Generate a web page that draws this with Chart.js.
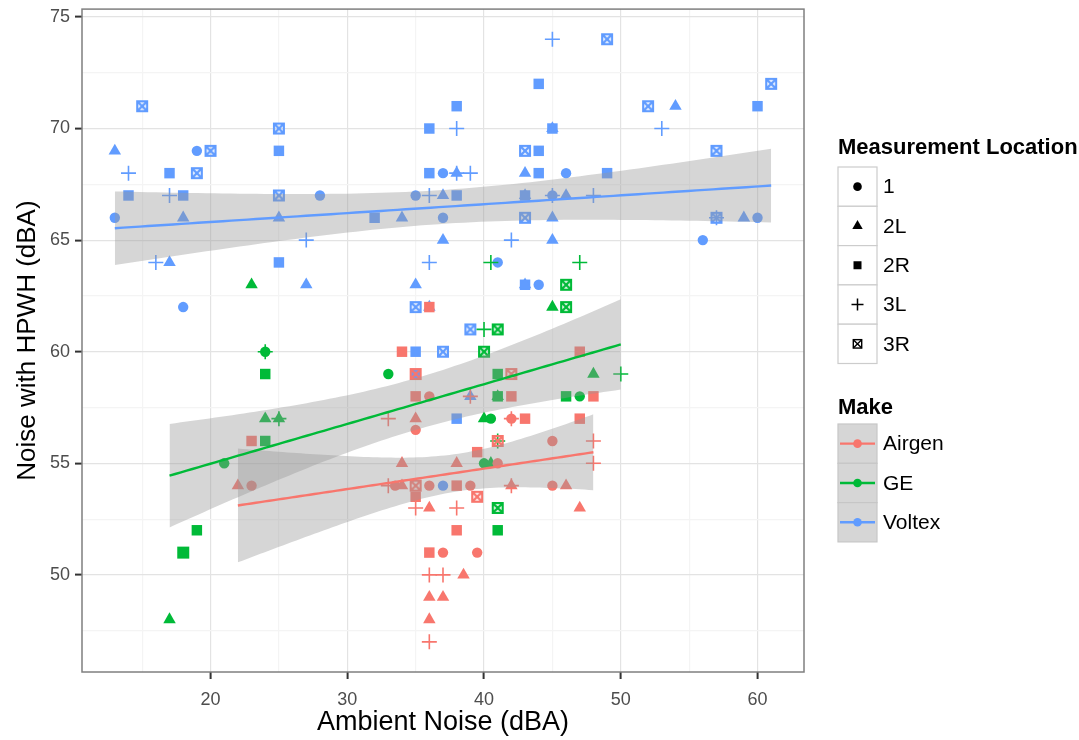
<!DOCTYPE html>
<html><head><meta charset="utf-8">
<script src="https://cdn.jsdelivr.net/npm/chart.js@4.4.1/dist/chart.umd.min.js"></script>
<style>html,body{margin:0;padding:0;background:#fff;}#wrap{width:1079px;height:740px;position:relative}</style>
</head><body><div id="wrap"><canvas id="c" width="1079" height="740"></canvas></div>
<script>
// ---------- DATA ----------
const makes = ['Airgen', 'GE', 'Voltex'];
const locations = ['1', '2L', '2R', '3L', '3R'];

const airgen_1  = [[23,54],[36,58],[35,56.5],[45,56],[41,55],[33.5,54],[36,54],[39,54],[45,54],[37,51],[39.5,51],[42,57]];
const airgen_2L = [[22,54],[35,57],[34,55],[38,55],[34,54],[36,53],[46,54],[47,53],[38.5,50],[36,49],[37,49],[36,48],[42,54]];
const airgen_2R = [[23,56],[34,60],[35,58],[39.5,55.5],[38,54],[35,53.5],[38,52],[36,51],[42,58],[43,57],[47,60],[47,57],[48,58],[36,62]];
const airgen_3L = [[33,57],[33,54],[35,53],[38,53],[36,50],[37,50],[36,47],[48,56],[48,55],[42,57],[42,54],[39,58]];
const airgen_3R = [[35,59],[42,59],[41,56],[35,54],[39.5,53.5]];

const ge_1  = [[24,60],[21,55],[18,51],[33,59],[47,58],[40.5,57],[40,55]];
const ge_2L = [[23,63],[24,57],[25,57],[17,48],[41,58],[40,57],[40.5,55],[45,62],[48,59]];
const ge_2R = [[24,59],[24,56],[19,52],[41,59],[46,58],[41,52],[41,58]];
const ge_3L = [[24,60],[25,57],[40.5,64],[40,61],[41,56],[47,64],[50,59]];
const ge_3R = [[18,51],[46,63],[46,62],[41,61],[40,60],[41,53]];

const voltex_1  = [[13,66],[19,69],[28,67],[35,67],[37,68],[37,66],[46,68],[41,64],[44,63],[56,65],[60,66],[18,62],[37,54],[45,67]];
const voltex_2L = [[13,69],[18,66],[25,66],[17,64],[27,63],[37,67],[34,66],[38,68],[43,68],[45,70],[37,65],[45,66],[45,65],[35,63],[36,62],[46,67],[54,71],[59,66],[43,67],[43,63],[39,58]];
const voltex_2R = [[14,67],[17,68],[18,67],[25,69],[25,64],[32,66],[36,70],[38,71],[44,72],[44,69],[36,68],[44,68],[38,67],[43,67],[49,68],[60,71],[45,70],[35,60],[35,59],[38,57],[43,63]];
const voltex_3L = [[14,68],[17,67],[16,64],[27,65],[38,70],[45,74],[38,68],[39,68],[36,67],[36,64],[42,65],[48,67],[53,70],[45,67],[57,66]];
const voltex_3R = [[15,71],[19,68],[20,69],[25,70],[25,67],[43,69],[43,66],[49,74],[52,71],[61,72],[57,69],[35,62],[39,61],[37,60],[57,66]];

const xTickValues = [20, 30, 40, 50, 60];
const xTickLabels = ['20', '30', '40', '50', '60'];
const yTickValues = [50, 55, 60, 65, 70, 75];
const yTickLabels = ['50', '55', '60', '65', '70', '75'];
const xMinorValues = [15, 25, 35, 45, 55];
const yMinorValues = [47.5, 52.5, 57.5, 62.5, 67.5, 72.5];

// ---------- STYLE ----------
const makeColors = {Airgen: '#F8766D', GE: '#00BA38', Voltex: '#619CFF'};
const seriesByMake = {
  Airgen: [airgen_1, airgen_2L, airgen_2R, airgen_3L, airgen_3R],
  GE: [ge_1, ge_2L, ge_2R, ge_3L, ge_3R],
  Voltex: [voltex_1, voltex_2L, voltex_2R, voltex_3L, voltex_3R]
};
const FONT = '"Liberation Sans", Arial, Helvetica, sans-serif';

function crossSquareImage(color, size, lw) {
  const c = document.createElement('canvas');
  const s = size + 4;
  c.width = s; c.height = s;
  const g = c.getContext('2d');
  const o = 2;
  g.strokeStyle = color; g.lineWidth = lw;
  g.strokeRect(o + lw/2, o + lw/2, size - lw, size - lw);
  g.beginPath();
  g.moveTo(o + lw/2, o + lw/2); g.lineTo(o + size - lw/2, o + size - lw/2);
  g.moveTo(o + size - lw/2, o + lw/2); g.lineTo(o + lw/2, o + size - lw/2);
  g.stroke();
  return c;
}

function pointStyleFor(loc, color) {
  switch (loc) {
    case '1': return {pointStyle: 'circle', pointRadius: 5.2, pointBorderWidth: 0, backgroundColor: color, borderColor: color};
    case '2L': return {pointStyle: 'triangle', pointRadius: 7.2, pointBorderWidth: 0, backgroundColor: color, borderColor: color};
    case '2R': return {pointStyle: 'rect', pointRadius: 7.4, pointBorderWidth: 0, backgroundColor: color, borderColor: color};
    case '3L': return {pointStyle: 'cross', pointRadius: 7.5, pointBorderWidth: 1.6, backgroundColor: color, borderColor: color};
    case '3R': return {pointStyle: crossSquareImage(color, 12, 2.2), pointRadius: 6, pointBorderWidth: 0, backgroundColor: color, borderColor: color};
  }
}

// linear model + 95% confidence band (like geom_smooth(method = "lm"))
function tQuant(df) {
  const z = 1.959964;
  return z + (z**3 + z) / (4*df) + (5*z**5 + 16*z**3 + 3*z) / (96*df*df);
}
function lmBand(points) {
  const n = points.length;
  let mx = 0, my = 0;
  points.forEach(p => { mx += p[0]; my += p[1]; });
  mx /= n; my /= n;
  let sxx = 0, sxy = 0;
  points.forEach(p => { sxx += (p[0]-mx)**2; sxy += (p[0]-mx)*(p[1]-my); });
  const b = sxy / sxx, a = my - b*mx;
  let sse = 0;
  points.forEach(p => { sse += (p[1] - a - b*p[0])**2; });
  const s = Math.sqrt(sse / (n-2));
  const t = tQuant(n-2);
  const xs = points.map(p => p[0]);
  const x0 = Math.min(...xs), x1 = Math.max(...xs);
  const fit = [], lo = [], hi = [];
  const steps = 80;
  for (let i = 0; i < steps; i++) {
    const x = x0 + (x1 - x0) * i / (steps - 1);
    const yhat = a + b*x;
    const se = s * Math.sqrt(1/n + (x-mx)**2 / sxx);
    fit.push({x, y: yhat}); lo.push({x, y: yhat - t*se}); hi.push({x, y: yhat + t*se});
  }
  return {fit, lo, hi};
}

// ---------- DATASETS ----------
const datasets = [];
makes.forEach(m => {
  const all = [].concat(...seriesByMake[m]);
  const band = lmBand(all);
  datasets.push({type: 'line', label: m + ' fit', data: band.fit, borderColor: makeColors[m], borderWidth: 2.4,
    pointRadius: 0, fill: false, order: 0, tension: 0});
});
makes.forEach(m => {
  const all = [].concat(...seriesByMake[m]);
  const band = lmBand(all);
  datasets.push({type: 'line', label: m + ' upper', data: band.hi, borderWidth: 0, borderColor: 'rgba(0,0,0,0)',
    pointRadius: 0, fill: '+1', backgroundColor: 'rgba(153,153,153,0.4)', order: 1});
  datasets.push({type: 'line', label: m + ' lower', data: band.lo, borderWidth: 0, borderColor: 'rgba(0,0,0,0)',
    pointRadius: 0, fill: false, order: 1});
});
makes.forEach(m => {
  seriesByMake[m].forEach((arr, i) => {
    const st = pointStyleFor(locations[i], makeColors[m]);
    datasets.push(Object.assign({type: 'scatter', label: m + ' ' + locations[i], data: arr, order: 2}, st));
  });
});

// ---------- PLUGINS ----------
function drawKeyShape(ctx, loc, x, y) {
  ctx.save();
  ctx.fillStyle = '#000'; ctx.strokeStyle = '#000';
  ctx.beginPath();
  if (loc === '1') { ctx.arc(x, y, 4.3, 0, Math.PI*2); ctx.fill(); }
  else if (loc === '2L') { const r = 6; ctx.moveTo(x, y - r); ctx.lineTo(x + r*0.866, y + r/2); ctx.lineTo(x - r*0.866, y + r/2); ctx.closePath(); ctx.fill(); }
  else if (loc === '2R') { ctx.rect(x - 4, y - 4, 8, 8); ctx.fill(); }
  else if (loc === '3L') { ctx.lineWidth = 1.5; ctx.moveTo(x - 6, y); ctx.lineTo(x + 6, y); ctx.moveTo(x, y - 6); ctx.lineTo(x, y + 6); ctx.stroke(); }
  else if (loc === '3R') { ctx.lineWidth = 1.4; ctx.strokeRect(x - 4.2, y - 4.2, 8.4, 8.4); ctx.moveTo(x - 4.2, y - 4.2); ctx.lineTo(x + 4.2, y + 4.2); ctx.moveTo(x + 4.2, y - 4.2); ctx.lineTo(x - 4.2, y + 4.2); ctx.stroke(); }
  ctx.restore();
}

const decor = {
  id: 'decor',
  afterDraw(chart) {
    const ctx = chart.ctx, a = chart.chartArea;
    ctx.save();
    // panel border
    ctx.strokeStyle = '#7f7f7f'; ctx.lineWidth = 1.5;
    ctx.strokeRect(a.left, a.top, a.right - a.left, a.bottom - a.top);

    // legend 1: Measurement Location
    const lx = 838, kw = 39, kh = 39.3;
    ctx.fillStyle = '#000'; ctx.textBaseline = 'middle'; ctx.textAlign = 'left';
    ctx.font = 'bold 22px ' + FONT;
    ctx.fillText('Measurement Location', lx, 148);
    ctx.font = '21px ' + FONT;
    locations.forEach((loc, i) => {
      const top = 167 + i*kh;
      ctx.fillStyle = '#fff'; ctx.fillRect(lx, top, kw, kh);
      ctx.strokeStyle = '#cccccc'; ctx.lineWidth = 1.2; ctx.strokeRect(lx, top, kw, kh);
      drawKeyShape(ctx, loc, lx + kw/2, top + kh/2);
      ctx.fillStyle = '#000'; ctx.fillText(loc, lx + kw + 6, top + kh/2 + 1);
    });

    // legend 2: Make
    ctx.font = 'bold 22px ' + FONT; ctx.fillStyle = '#000';
    ctx.fillText('Make', lx, 408);
    ctx.font = '21px ' + FONT;
    makes.forEach((m, i) => {
      const top = 424 + i*kh;
      ctx.fillStyle = '#d6d6d6'; ctx.fillRect(lx, top, kw, kh);
      ctx.strokeStyle = '#c6c6c6'; ctx.lineWidth = 1.2; ctx.strokeRect(lx, top, kw, kh);
      const cy = top + kh/2;
      ctx.strokeStyle = makeColors[m]; ctx.lineWidth = 2.4;
      ctx.beginPath(); ctx.moveTo(lx + 2, cy); ctx.lineTo(lx + kw - 2, cy); ctx.stroke();
      ctx.fillStyle = makeColors[m]; ctx.beginPath(); ctx.arc(lx + kw/2, cy, 4.3, 0, Math.PI*2); ctx.fill();
      ctx.fillStyle = '#000'; ctx.fillText(m, lx + kw + 6, cy + 1);
    });
    ctx.restore();
  }
};

const bg = {
  id: 'bg',
  beforeDraw(chart) {
    const ctx = chart.ctx;
    ctx.save(); ctx.fillStyle = '#fff'; ctx.fillRect(0, 0, chart.width, chart.height); ctx.restore();
  }
};

const xAll = xMinorValues.concat(xTickValues).sort((p, q) => p - q);
const yAll = yMinorValues.concat(yTickValues).sort((p, q) => p - q);
const isMajor = (vals, v) => vals.indexOf(v) >= 0;

new Chart(document.getElementById('c'), {
  type: 'scatter',
  data: {datasets},
  options: {
    responsive: false, animation: false, devicePixelRatio: 1,
    layout: {padding: {top: 8, right: 275, left: 0, bottom: 0}},
    plugins: {legend: {display: false}, tooltip: {enabled: false}},
    scales: {
      x: {
        type: 'linear', min: 10.6, max: 63.4,
        afterFit: s => { s.height = 68; s.paddingLeft = 0; s.paddingRight = 0; },
        afterBuildTicks: s => { s.ticks = xAll.map(v => ({value: v})); },
        grid: {
          drawOnChartArea: true, tickLength: 7,
          color: c => isMajor(xTickValues, c.tick && c.tick.value) ? '#e3e3e3' : '#f4f4f4',
          lineWidth: 1.2,
          tickColor: c => isMajor(xTickValues, c.tick && c.tick.value) ? '#333333' : 'rgba(0,0,0,0)',
          tickWidth: 2
        },
        border: {display: false},
        ticks: {
          autoSkip: false, maxRotation: 0, padding: 10, color: '#4d4d4d',
          font: {family: FONT, size: 18},
          callback: v => { const i = xTickValues.indexOf(v); return i >= 0 ? xTickLabels[i] : ''; }
        },
        title: {display: true, text: 'Ambient Noise (dBA)', color: '#000', font: {family: FONT, size: 27}, padding: {top: 0, bottom: 1}}
      },
      y: {
        type: 'linear', min: 45.65, max: 75.35,
        afterFit: s => { s.width = 82; s.paddingTop = 0; s.paddingBottom = 0; },
        afterBuildTicks: s => { s.ticks = yAll.map(v => ({value: v})); },
        grid: {
          tickLength: 7,
          color: c => isMajor(yTickValues, c.tick && c.tick.value) ? '#e3e3e3' : '#f4f4f4',
          lineWidth: 1.2,
          tickColor: c => isMajor(yTickValues, c.tick && c.tick.value) ? '#333333' : 'rgba(0,0,0,0)',
          tickWidth: 2
        },
        border: {display: false},
        ticks: {
          autoSkip: false, padding: 5, color: '#4d4d4d',
          font: {family: FONT, size: 18},
          callback: v => { const i = yTickValues.indexOf(v); return i >= 0 ? yTickLabels[i] : ''; }
        },
        title: {display: true, text: 'Noise with HPWH (dBA)', color: '#000', font: {family: FONT, size: 26}, padding: {top: 12, bottom: 0}}
      }
    }
  },
  plugins: [bg, decor]
});
</script>
</body></html>
